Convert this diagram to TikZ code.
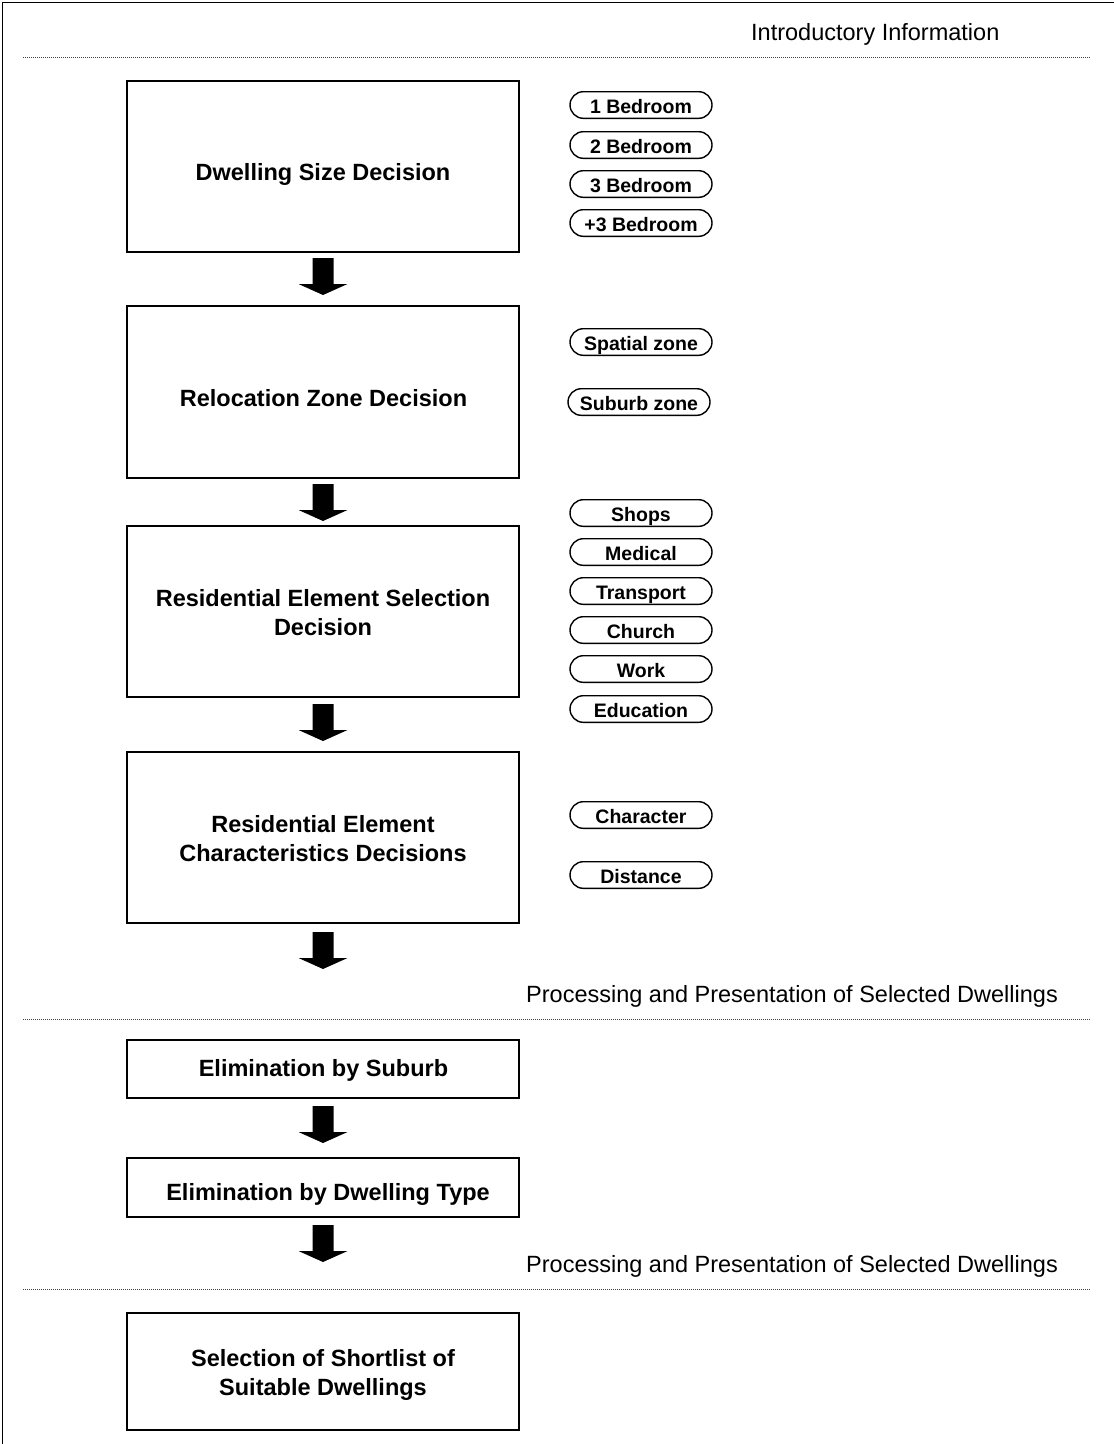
\documentclass[tikz,border=0pt]{standalone}
\usepackage{fontspec}
\setmainfont{Liberation Sans}
\usetikzlibrary{calc}
\begin{document}
\begin{tikzpicture}[x=1pt,y=-1pt,
  frame/.style={line width=1.7pt,black},
  sepline/.style={line width=1pt,black!75,dash pattern=on 1.2pt off 0.8pt},
  sect/.style={font=\fontsize{23.5}{28}\selectfont,inner sep=0pt},
  box/.style={draw,line width=1.7pt,rectangle,minimum width=392pt,inner sep=0pt,outer sep=0pt},
  boxtext/.style={font=\fontsize{23.5}{29}\selectfont\bfseries,align=center,inner sep=0pt,text height=16.8pt,text depth=0pt},
  twoline/.style={text height=45.8pt,text depth=0pt},
  pill/.style={draw,line width=1.4pt,rectangle,rounded corners=13.3pt,minimum width=142pt,minimum height=26.6pt,inner sep=0pt,
    font=\fontsize{19.5}{23}\selectfont\bfseries,text height=17pt,text depth=0pt},
  blockarrow/.pic={\fill[black] (-10.5,0) -- (10.5,0) -- (10.5,26) -- (24.5,26) -- (0,37) -- (-24.5,26) -- (-10.5,26) -- cycle;}
]
\useasboundingbox (0,0) rectangle (1114,1444);

% frame
\draw[frame] (2.5,1444) -- (2.5,2.5) -- (1114,2.5);

% section labels and separators
\node[sect,anchor=base west] (s1) at (751,40.5) {Introductory Information};
\draw[sepline] (23,57) -- (1090,57);
\node[sect,anchor=base west] (s2) at (526,1002.5) {Processing and Presentation of Selected Dwellings};
\draw[sepline] (23,1019) -- (1090,1019);
\node[sect,anchor=base west] (s3) at (526,1272.5) {Processing and Presentation of Selected Dwellings};
\draw[sepline] (23,1289) -- (1090,1289);

% boxes
\node[box,minimum height=171pt] (b1) at (323,166.5) {};
\node[box,minimum height=172pt] (b2) at (323,392) {};
\node[box,minimum height=171pt] (b3) at (323,611.5) {};
\node[box,minimum height=171pt] (b4) at (323,837.5) {};
\node[box,minimum height=58pt]  (b5) at (323,1069) {};
\node[box,minimum height=59pt]  (b6) at (323,1187.5) {};
\node[box,minimum height=117pt] (b7) at (323,1371.5) {};

% box texts
\node[boxtext] (t1) at (323,172) {Dwelling Size Decision};
\node[boxtext] (t2) at (323.5,398) {Relocation Zone Decision};
\node[boxtext,twoline] (t3) at (323,613) {Residential Element Selection\\Decision};
\node[boxtext,twoline] (t4) at (323,838.5) {Residential Element\\Characteristics Decisions};
\node[boxtext] (t5) at (323.5,1068) {Elimination by Suburb};
\node[boxtext] (t6) at (328,1192.5) {Elimination by Dwelling Type};
\node[boxtext,twoline] (t7) at (323,1372.5) {Selection of Shortlist of\\Suitable Dwellings};

% block arrows
\coordinate (a1) at ($(b1.south)+(0,6)$);
\coordinate (a2) at ($(b2.south)+(0,6)$);
\coordinate (a3) at ($(b3.south)+(0,7)$);
\coordinate (a4) at ($(b4.south)+(0,9)$);
\coordinate (a5) at ($(b5.south)+(0,8)$);
\coordinate (a6) at ($(b6.south)+(0,8)$);
\foreach \c in {a1,a2,a3,a4,a5,a6} { \pic at (\c) {blockarrow}; }

% option pills
\node[pill] (p1) at (641,105) {1 Bedroom};
\node[pill] (p2) at (641,145) {2 Bedroom};
\node[pill] (p3) at (641,184) {3 Bedroom};
\node[pill] (p4) at (641,223) {+3 Bedroom};
\node[pill] (p5) at (641,342) {Spatial zone};
\node[pill] (p6) at (639,402) {Suburb zone};
\node[pill] (p7) at (641,513) {Shops};
\node[pill] (p8) at (641,552) {Medical};
\node[pill] (p9) at (641,591) {Transport};
\node[pill] (p10) at (641,630) {Church};
\node[pill] (p11) at (641,669) {Work};
\node[pill] (p12) at (641,709) {Education};
\node[pill] (p13) at (641,815) {Character};
\node[pill] (p14) at (641,875) {Distance};
\end{tikzpicture}
\end{document}
